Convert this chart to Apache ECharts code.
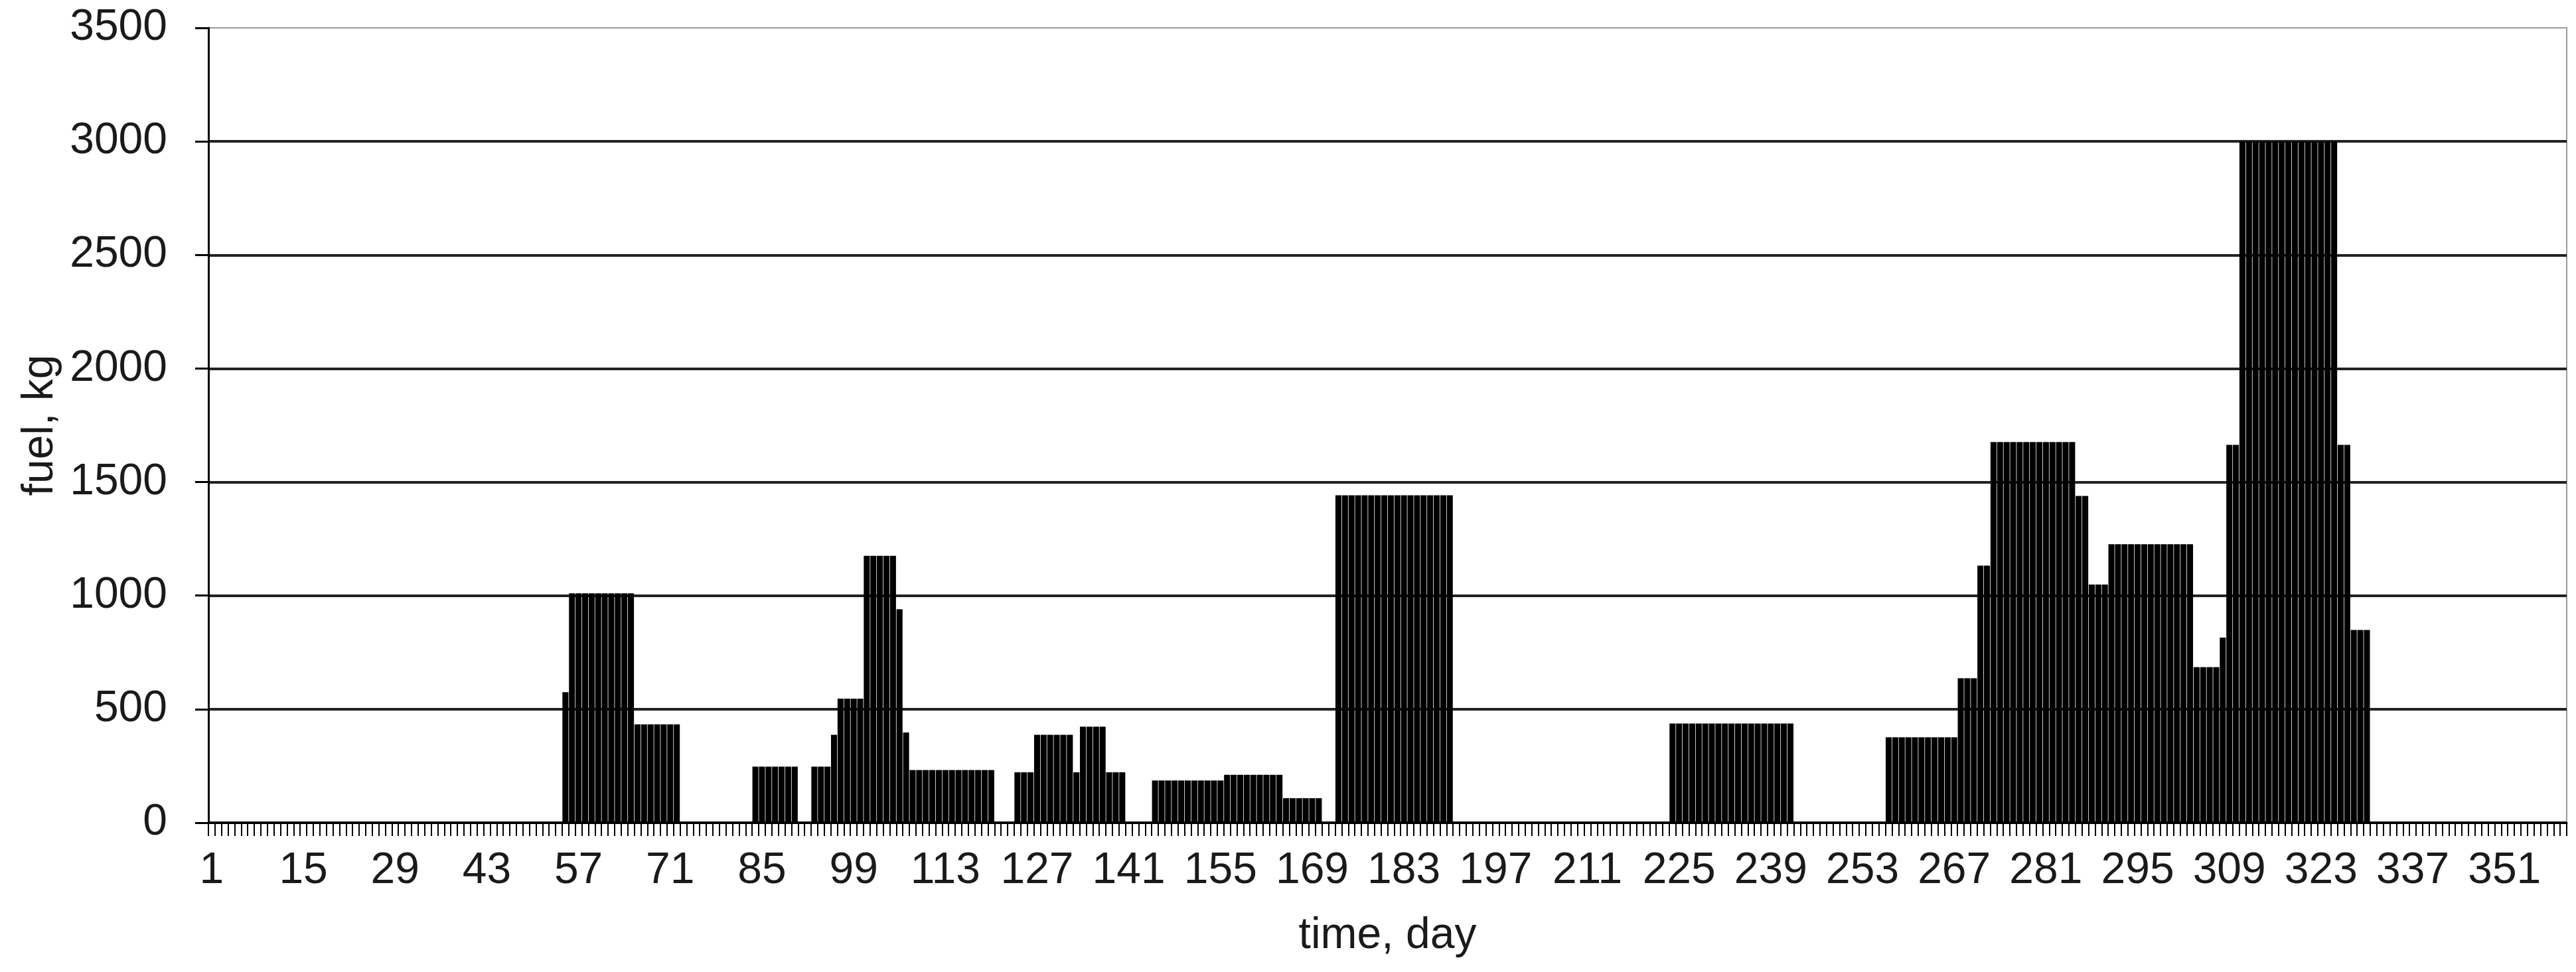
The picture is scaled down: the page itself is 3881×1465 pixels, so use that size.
<!DOCTYPE html>
<html>
<head>
<meta charset="utf-8">
<script src="https://cdn.jsdelivr.net/npm/echarts@6/dist/echarts.min.js"></script>
<style>
  html, body { margin: 0; padding: 0; background: #ffffff; }
  #chart { width: 3881px; height: 1465px; }
</style>
</head>
<body>
<div id="chart"></div>
<script>
// Day numbers (categories) 1..360
const days = [];
for (let d = 1; d <= 360; d++) days.push(String(d));

// Fuel per day, kg
const fuel = [
  0,0,0,0,0,0,0,0,0,0,
  0,0,0,0,0,0,0,0,0,0,
  0,0,0,0,0,0,0,0,0,0,
  0,0,0,0,0,0,0,0,0,0,
  0,0,0,0,0,0,0,0,0,0,
  0,0,0,0,575,1010,1010,1010,1010,1010,
  1010,1010,1010,1010,1010,433,433,433,433,433,
  433,433,0,0,0,0,0,0,0,0,
  0,0,0,247,247,247,247,247,247,247,
  0,0,247,247,247,387,546,546,546,546,
  1175,1175,1175,1175,1175,940,397,232,232,232,
  232,232,232,232,232,232,232,232,232,232,
  0,0,0,222,222,222,387,387,387,387,
  387,387,222,423,423,423,423,222,222,222,
  0,0,0,0,186,186,186,186,186,186,
  186,186,186,186,186,211,211,211,211,211,
  211,211,211,211,108,108,108,108,108,108,
  0,0,1442,1442,1442,1442,1442,1442,1442,1442,
  1442,1442,1442,1442,1442,1442,1442,1442,1442,1442,
  0,0,0,0,0,0,0,0,0,0,
  0,0,0,0,0,0,0,0,0,0,
  0,0,0,0,0,0,0,0,0,0,
  0,0,0,437,437,437,437,437,437,437,
  437,437,437,437,437,437,437,437,437,437,
  437,437,0,0,0,0,0,0,0,0,
  0,0,0,0,0,0,376,376,376,376,
  376,376,376,376,376,376,376,636,636,636,
  1132,1132,1676,1676,1676,1676,1676,1676,1676,1676,
  1676,1676,1676,1676,1676,1439,1439,1049,1049,1049,
  1226,1226,1226,1226,1226,1226,1226,1226,1226,1226,
  1226,1226,1226,685,685,685,685,815,1664,1664,
  3000,3000,3000,3000,3000,3000,3000,3000,3000,3000,
  3000,3000,3000,3000,3000,1664,1664,849,849,849,
  0,0,0,0,0,0,0,0,0,0,
  0,0,0,0,0,0,0,0,0,0,
  0,0,0,0,0,0,0,0,0,0
];

// Y axis ticks
const yMin = 0, yMax = 3500, yStep = 500;
const xLabelEvery = 14;

const FONT = "'Liberation Sans', Arial, sans-serif";
const TXT = '#1a1a1a';

const chart = echarts.init(document.getElementById('chart'), null, { renderer: 'canvas' });
chart.setOption({
  animation: false,
  backgroundColor: '#ffffff',
  grid: {
    left: 314, right: 14, top: 42, bottom: 225,
    show: true, borderColor: '#9a9a9a', borderWidth: 2, backgroundColor: 'transparent'
  },
  xAxis: {
    type: 'category',
    data: days,
    name: 'time, day',
    nameLocation: 'middle',
    nameGap: 138,
    nameTextStyle: { fontFamily: FONT, fontSize: 66, color: TXT },
    axisLine: { show: true, lineStyle: { color: '#000', width: 3 } },
    axisTick: { show: true, interval: 0, length: 20, lineStyle: { color: '#000', width: 2 } },
    axisLabel: {
      interval: xLabelEvery - 1, margin: 40,
      fontFamily: FONT, fontSize: 66, color: TXT, hideOverlap: false
    },
    splitLine: { show: false }
  },
  yAxis: {
    type: 'value',
    min: yMin, max: yMax, interval: yStep,
    name: 'fuel, kg',
    nameLocation: 'middle',
    nameRotate: 90,
    nameGap: 218,
    nameTextStyle: { fontFamily: FONT, fontSize: 66, color: TXT },
    axisLine: { show: true, lineStyle: { color: '#000', width: 3 } },
    axisTick: { show: true, length: 20, lineStyle: { color: '#000', width: 3 } },
    axisLabel: {
      margin: 62, fontFamily: FONT, fontSize: 66, color: TXT,
      formatter: function (v) { return String(v); }
    },
    splitLine: { show: true, showMaxLine: false, lineStyle: { color: '#222', width: 4 } }
  },
  series: [{
    type: 'bar',
    data: fuel,
    barCategoryGap: '8%',
    itemStyle: { color: '#000' },
    z: 3
  }]
});
</script>
</body>
</html>
